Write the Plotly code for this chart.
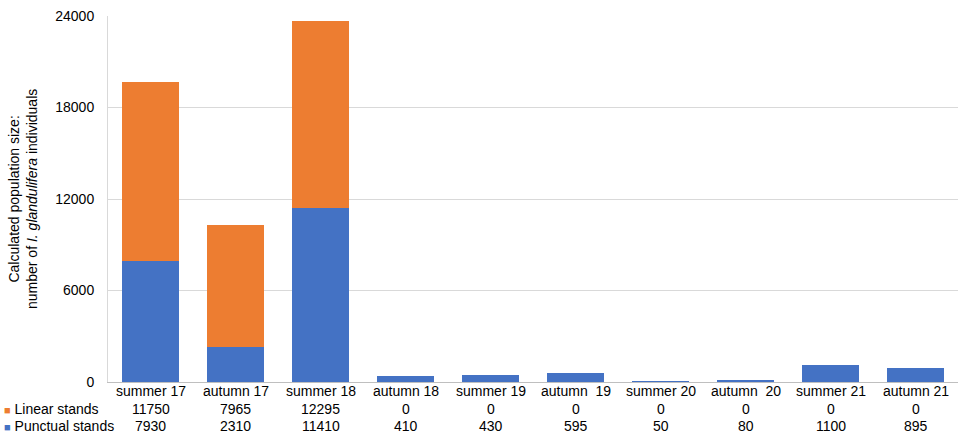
import plotly.graph_objects as go

# Survey periods and counted individuals per stand type
seasons = ["summer 17", "autumn 17", "summer 18", "autumn 18", "summer 19",
           "autumn\u00a0\u00a019", "summer 20", "autumn\u00a0\u00a020", "summer 21", "autumn 21"]
linear_stands = [11750, 7965, 12295, 0, 0, 0, 0, 0, 0, 0]
punctual_stands = [7930, 2310, 11410, 410, 430, 595, 50, 80, 1100, 895]
y_ticks = [0, 6000, 12000, 18000, 24000]

BLUE = "#4472C4"
ORANGE = "#ED7D31"
FONT = "Liberation Sans, Arial, sans-serif"
TXT = dict(size=14, color="#000000", family=FONT)

fig = go.Figure()
fig.add_trace(go.Bar(x=seasons, y=punctual_stands, name="Punctual stands",
                     marker=dict(color=BLUE, line=dict(width=0))))
fig.add_trace(go.Bar(x=seasons, y=linear_stands, name="Linear stands",
                     marker=dict(color=ORANGE, line=dict(width=0))))

annotations = []
# Category row of the data table
for s in seasons:
    annotations.append(dict(x=s, y=0, xref="x", yref="y", text=s, showarrow=False,
                            yshift=-9, yanchor="middle", font=TXT))

# Value rows of the data table, with legend keys
rows = [("Linear stands", ORANGE, linear_stands, -27),
        ("Punctual stands", BLUE, punctual_stands, -44)]
for label, color, values, shift in rows:
    for s, v in zip(seasons, values):
        annotations.append(dict(x=s, y=0, xref="x", yref="y", text=str(v),
                                showarrow=False, yshift=shift, yanchor="middle",
                                font=TXT))
    annotations.append(dict(x=0, y=0, xref="paper", yref="y", xshift=-106,
                            yshift=shift, xanchor="left", yanchor="middle",
                            text=f"<span style='color:{color};font-size:11px'>\u25A0</span> {label}",
                            showarrow=False, font=TXT))

annotations.append(dict(x=0, y=0.5, xref="paper", yref="paper", xshift=-85,
                        textangle=-90, showarrow=False, xanchor="center",
                        text="Calculated population size:<br>number of <i>I. glandulifera</i> individuals",
                        font=TXT))

fig.update_layout(
    width=960, height=433,
    margin=dict(l=108, r=2, t=16, b=51),
    barmode="stack", bargap=0.34,
    plot_bgcolor="white", paper_bgcolor="white",
    showlegend=False,
    font=TXT,
    annotations=annotations,
)
fig.update_xaxes(showline=True, linecolor="#BFBFBF", linewidth=1,
                 ticks="", showticklabels=False)
fig.update_yaxes(range=[0, 24000], tickvals=y_ticks, tickformat="d",
                 showgrid=True, gridcolor="#D9D9D9", gridwidth=1, zeroline=False,
                 showline=True, linecolor="#D9D9D9", ticks="",
                 tickfont=TXT, ticklabelstandoff=10)

fig.write_html("out.html")
